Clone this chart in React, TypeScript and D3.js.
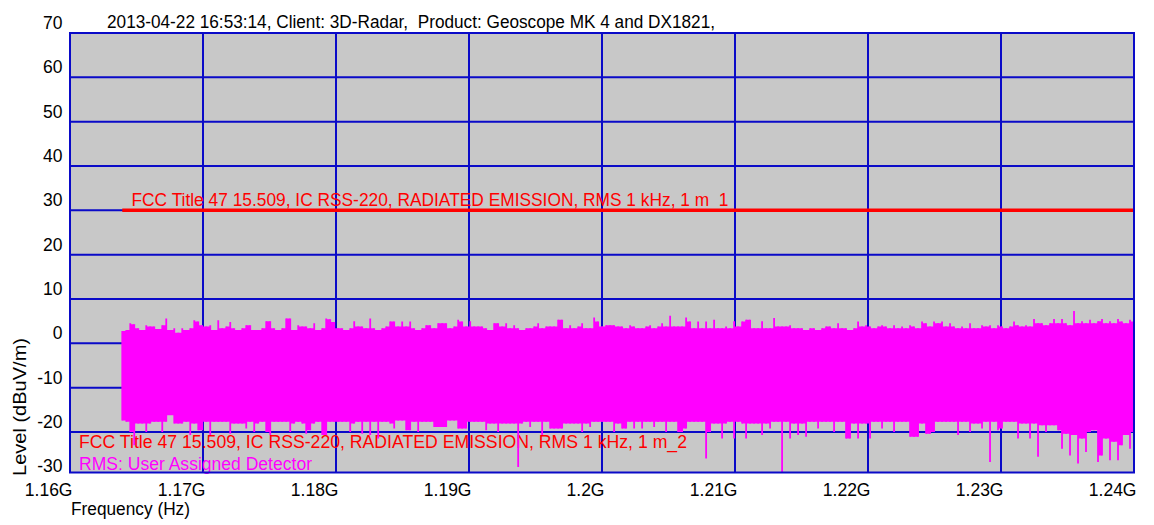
import React from "react";
import * as d3 from "d3";

// ---- data ----
const TITLE = "2013-04-22 16:53:14, Client: 3D-Radar,  Product: Geoscope MK 4 and DX1821,";
const LIMIT_LABEL_1 = "FCC Title 47 15.509, IC RSS-220, RADIATED EMISSION, RMS 1 kHz, 1 m_1";
const LIMIT_LABEL_2 = "FCC Title 47 15.509, IC RSS-220, RADIATED EMISSION, RMS 1 kHz, 1 m_2";
const TRACE_LABEL = "RMS: User Assigned Detector";
const X_LABEL = "Frequency (Hz)";
const Y_LABEL = "Level (dBuV/m)";

const X_TICKS = [1.16, 1.17, 1.18, 1.19, 1.2, 1.21, 1.22, 1.23, 1.24];
const X_TICK_LABELS = ["1.16G", "1.17G", "1.18G", "1.19G", "1.2G", "1.21G", "1.22G", "1.23G", "1.24G"];
const Y_TICKS = [70, 60, 50, 40, 30, 20, 10, 0, -10, -20, -30];
const Y_TICK_LABELS = ["70", "60", "50", "40", "30", "20", "10", "0", "-10", "-20", "-30"];

// limit line (GHz, dBuV/m)
const LIMIT_FREQ = [1.16393, 1.24];
const LIMIT_LEVEL = [30, 30];

// sweep: start / stop (GHz)
const SWEEP_START = 1.16393;
const SWEEP_STOP = 1.24;

// RMS trace envelope (dBuV/m): per sweep bin max and min
const TRACE_MAX = [
  2.8, 3.0, 4.5, 4.3, 3.4, 3.0, 4.1, 3.8, 3.8, 3.2,
  4.1, 5.6, 3.0, 3.4, 2.4, 3.4, 3.0, 3.4, 5.2, 4.9,
  4.1, 3.8, 4.1, 3.0, 5.2, 3.4, 3.8, 4.8, 3.4, 3.0,
  3.4, 4.1, 4.1, 3.0, 3.0, 3.4, 5.0, 5.0, 3.4, 3.0,
  3.4, 5.6, 5.6, 3.0, 4.1, 3.8, 3.8, 3.4, 4.5, 3.0,
  3.4, 5.6, 5.4, 4.8, 3.4, 3.4, 3.0, 3.4, 5.0, 3.8,
  3.8, 3.4, 5.6, 3.4, 3.0, 3.4, 3.8, 4.9, 4.9, 3.8,
  4.9, 3.8, 4.9, 3.4, 3.0, 3.4, 4.1, 4.1, 3.4, 4.5,
  4.5, 4.5, 3.4, 3.8, 5.3, 4.9, 3.8, 5.0, 3.8, 3.8,
  3.8, 3.4, 3.0, 4.5, 4.5, 3.8, 4.5, 3.4, 4.1, 3.4,
  3.0, 3.4, 3.4, 3.8, 4.5, 3.4, 3.8, 3.8, 3.8, 5.3,
  5.3, 3.4, 4.1, 3.4, 3.8, 4.5, 3.4, 3.4, 5.8, 4.9,
  3.8, 4.1, 4.1, 4.1, 3.8, 3.8, 3.4, 4.1, 3.8, 3.4,
  3.4, 3.8, 4.1, 3.4, 3.8, 4.5, 3.8, 6.2, 3.8, 3.8,
  3.8, 5.8, 4.9, 3.4, 4.9, 3.4, 4.9, 3.4, 5.3, 3.4,
  3.4, 3.8, 3.4, 5.0, 3.8, 4.9, 5.3, 5.3, 3.4, 3.4,
  5.0, 3.4, 3.4, 5.7, 3.8, 3.8, 3.8, 4.1, 3.4, 3.4,
  3.4, 3.0, 3.4, 3.4, 3.0, 3.4, 3.8, 3.8, 3.4, 4.5,
  3.4, 3.4, 3.0, 3.4, 4.9, 3.8, 4.1, 3.8, 3.4, 3.8,
  4.1, 3.8, 3.4, 4.1, 3.4, 3.8, 3.4, 4.1, 3.8, 3.4,
  4.9, 4.5, 3.8, 4.9, 4.5, 4.9, 3.8, 4.5, 3.8, 3.4,
  3.8, 3.4, 4.5, 3.4, 3.4, 4.1, 3.8, 4.1, 3.4, 4.1,
  3.8, 3.4, 3.8, 4.9, 4.1, 3.8, 4.1, 3.8, 5.5, 4.5,
  4.5, 4.1, 4.5, 5.5, 4.5, 5.5, 4.5, 4.1, 7.3, 4.5,
  5.0, 4.5, 5.3, 4.5, 5.0, 5.5, 4.5, 5.0, 4.5, 5.5,
  4.9, 4.5, 5.3, 4.9,
];

const TRACE_MIN = [
  -17.4, -17.7, -20.0, -23.0, -18.1, -18.1, -20.0, -18.1, -17.7, -17.7,
  -20.0, -17.7, -16.2, -18.1, -18.1, -18.1, -17.7, -20.7, -18.1, -19.6,
  -19.6, -17.7, -20.7, -17.7, -17.7, -17.7, -17.7, -20.4, -18.1, -18.1,
  -18.1, -19.2, -17.7, -20.0, -18.1, -17.7, -20.0, -20.7, -17.7, -17.7,
  -17.7, -17.7, -20.0, -18.1, -17.7, -18.1, -20.4, -19.6, -18.1, -17.7,
  -20.7, -20.7, -17.7, -17.7, -17.7, -17.7, -17.7, -20.0, -18.1, -17.7,
  -20.4, -17.7, -20.7, -17.7, -21.5, -17.7, -17.7, -18.1, -19.2, -17.4,
  -17.4, -19.6, -19.6, -17.7, -20.0, -17.7, -17.7, -17.7, -18.9, -18.9,
  -18.9, -18.9, -17.4, -17.4, -19.2, -19.2, -19.2, -17.7, -17.7, -17.7,
  -17.7, -19.6, -18.1, -18.1, -20.0, -18.1, -18.1, -18.1, -18.1, -27.9,
  -18.1, -17.7, -18.9, -17.7, -17.7, -20.7, -17.7, -19.2, -19.2, -19.2,
  -19.2, -18.1, -18.1, -18.1, -18.1, -20.0, -18.1, -18.9, -17.7, -17.7,
  -17.7, -17.7, -17.7, -20.0, -18.1, -19.2, -19.2, -17.7, -19.2, -17.7,
  -19.2, -17.7, -17.7, -18.9, -17.7, -17.7, -20.0, -17.7, -17.7, -20.0,
  -20.0, -19.2, -17.7, -17.7, -17.7, -17.7, -26.0, -20.0, -18.1, -18.1,
  -21.5, -18.1, -17.7, -21.5, -17.7, -18.1, -21.5, -18.1, -18.1, -18.1,
  -20.7, -18.1, -19.2, -17.7, -17.7, -29.8, -17.7, -21.5, -18.1, -20.7,
  -18.1, -21.1, -17.7, -17.7, -19.2, -17.7, -17.7, -17.7, -20.0, -17.7,
  -17.7, -21.5, -21.5, -18.1, -21.5, -18.1, -18.1, -21.5, -17.7, -17.7,
  -19.2, -17.7, -17.7, -20.0, -17.7, -17.7, -17.7, -21.1, -21.1, -21.1,
  -18.1, -20.4, -20.4, -20.0, -17.7, -17.7, -17.7, -17.7, -17.7, -20.7,
  -17.7, -17.7, -20.0, -18.1, -18.1, -19.2, -17.7, -26.8, -17.7, -19.6,
  -19.2, -17.7, -17.7, -17.7, -21.5, -18.1, -18.1, -21.5, -18.1, -25.6,
  -18.5, -20.0, -18.5, -18.5, -19.6, -23.8, -20.4, -25.3, -20.7, -27.1,
  -21.5, -24.5, -20.0, -19.6, -26.8, -25.3, -21.5, -26.4, -22.2, -26.4,
  -23.0, -20.7, -23.8, -20.0,
];

// ---- layout ----
const W = 1154;
const H = 525;
const PLOT_LEFT = 70;
const PLOT_RIGHT = 1134;
const PLOT_TOP = 33;
const PLOT_BOTTOM = 472.5;
const Y_AT_MINUS30 = 476.3;
const FONT = "'Liberation Sans', Arial, Helvetica, sans-serif";

const BG = "#C8C8C8";
const GRID = "#0A0AC8";
const RED = "#FF0000";
const MAGENTA = "#FF00FF";

type Pt = { f: number; hi: number; lo: number };

export default function App() {
  const x = d3.scaleLinear().domain([1.16, 1.24]).range([PLOT_LEFT, PLOT_RIGHT]);
  const y = d3.scaleLinear().domain([-30, 70]).range([Y_AT_MINUS30, PLOT_TOP]);

  const n = TRACE_MAX.length;
  const step = (SWEEP_STOP - SWEEP_START) / (n - 1);
  const trace: Pt[] = TRACE_MAX.map((hi, i) => ({ f: SWEEP_START + i * step, hi, lo: TRACE_MIN[i] }));

  // solid body between adjacent sweep points (inner envelope of neighbours)
  const body: Pt[] = trace.map((d, i) => {
    const nx = trace[Math.min(i + 1, n - 1)];
    return { f: d.f, hi: Math.min(d.hi, nx.hi), lo: Math.max(d.lo, nx.lo) };
  });

  const area = d3
    .area<Pt>()
    .x((d) => x(d.f))
    .y0((d) => y(d.lo))
    .y1((d) => y(d.hi))
    .curve(d3.curveStepAfter);

  const limitLine = d3
    .line<number>()
    .x((_, i) => x(LIMIT_FREQ[i]))
    .y((d) => y(d));

  const gridY = Y_TICKS.filter((v) => y(v) > PLOT_TOP + 1 && y(v) < PLOT_BOTTOM - 1);
  const gridX = X_TICKS.filter((v) => x(v) > PLOT_LEFT + 1 && x(v) < PLOT_RIGHT - 1);

  return (
    <svg
      width={W}
      height={H}
      style={{ position: "absolute", left: 0, top: 0, background: "#fff" }}
      fontFamily={FONT}
      fontSize={17.5}
    >
      <defs>
        <clipPath id="plotClip">
          <rect x={PLOT_LEFT} y={PLOT_TOP} width={PLOT_RIGHT - PLOT_LEFT} height={PLOT_BOTTOM - PLOT_TOP} />
        </clipPath>
      </defs>
      <rect x={PLOT_LEFT} y={PLOT_TOP} width={PLOT_RIGHT - PLOT_LEFT} height={PLOT_BOTTOM - PLOT_TOP} fill={BG} />
      {gridY.map((v) => (
        <line key={"gy" + v} x1={PLOT_LEFT} x2={PLOT_RIGHT} y1={y(v)} y2={y(v)} stroke={GRID} strokeWidth={2} />
      ))}
      {gridX.map((v) => (
        <line key={"gx" + v} x1={x(v)} x2={x(v)} y1={PLOT_TOP} y2={PLOT_BOTTOM} stroke={GRID} strokeWidth={2} />
      ))}

      {/* legend texts inside plot */}
      <text x={79} y={448} fill={RED} textLength={608} lengthAdjust="spacingAndGlyphs">
        {LIMIT_LABEL_2}
      </text>
      <text x={79} y={470} fill={MAGENTA} textLength={233} lengthAdjust="spacingAndGlyphs">
        {TRACE_LABEL}
      </text>

      <g clipPath="url(#plotClip)">
        <path d={area(body) || ""} fill={MAGENTA} />
        {trace.map((d, i) => (
          <line
            key={"s" + i}
            x1={x(d.f)}
            x2={x(d.f)}
            y1={y(d.hi)}
            y2={y(d.lo)}
            stroke={MAGENTA}
            strokeWidth={1.8}
          />
        ))}
        <path d={limitLine(LIMIT_LEVEL) || ""} fill="none" stroke={RED} strokeWidth={3.5} />
      </g>
      <text x={131.5} y={206} fill={RED} textLength={597} lengthAdjust="spacingAndGlyphs">
        {LIMIT_LABEL_1}
      </text>

      <rect
        x={PLOT_LEFT}
        y={PLOT_TOP}
        width={PLOT_RIGHT - PLOT_LEFT}
        height={PLOT_BOTTOM - PLOT_TOP}
        fill="none"
        stroke={GRID}
        strokeWidth={2}
      />

      {/* title */}
      <text
        x={107}
        y={28}
        fill="#000"
        textLength={608}
        lengthAdjust="spacingAndGlyphs"
        style={{ whiteSpace: "pre" }}
      >
        {TITLE}
      </text>

      {/* y tick labels */}
      {Y_TICKS.map((v, i) => (
        <text key={"yt" + v} x={62.5} y={y(v) - 4} textAnchor="end" fill="#000">
          {Y_TICK_LABELS[i]}
        </text>
      ))}
      {/* x tick labels */}
      {X_TICKS.map((v, i) => (
        <text key={"xt" + v} x={x(v) + 2.5} y={495.5} textAnchor="end" fill="#000">
          {X_TICK_LABELS[i]}
        </text>
      ))}

      <text x={71} y={515} fill="#000" textLength={119} lengthAdjust="spacingAndGlyphs">
        {X_LABEL}
      </text>
      <text
        transform="translate(26,476) rotate(-90)"
        x={0}
        y={0}
        fill="#000"
        textLength={138}
        lengthAdjust="spacingAndGlyphs"
      >
        {Y_LABEL}
      </text>
    </svg>
  );
}
